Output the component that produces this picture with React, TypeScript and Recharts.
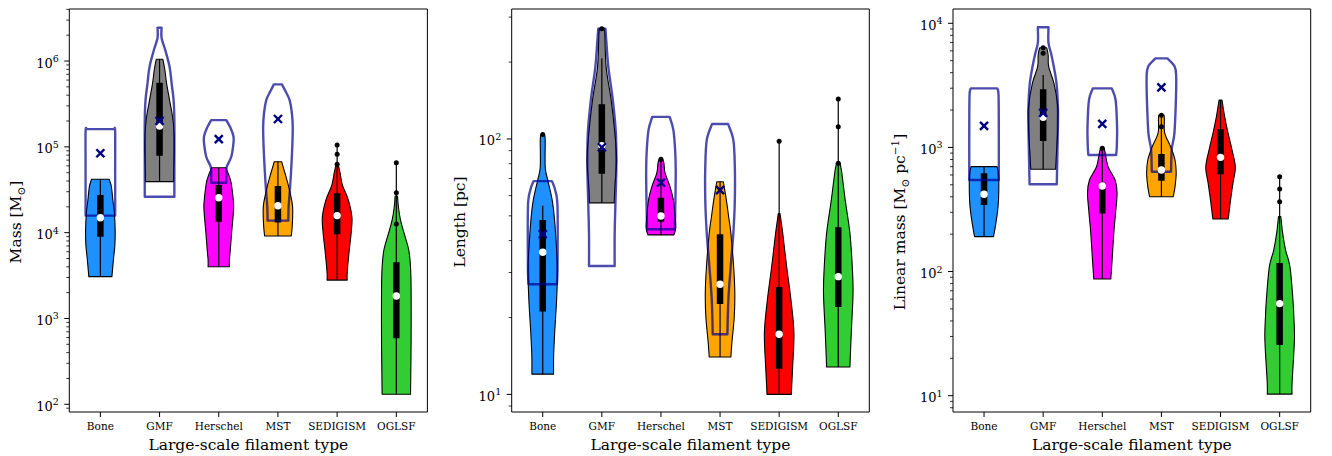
import React from 'react';
import { ComposedChart, Scatter, XAxis, YAxis, ReferenceArea } from 'recharts';

const FONT = '"DejaVu Serif", serif';

const categories = ['Bone', 'GMF', 'Herschel', 'MST', 'SEDIGISM', 'OGLSF'];
const bodyColors = ['#1e90ff', '#808080', '#ff00ff', '#ffa500', '#ff0000', '#32cd32'];

// violin shapes: [value, half width in category units], listed from top to bottom
// boxes: [low whisker, q1, median, q3, high whisker]

// ---- Mass [Msun] ----
const massBodies: [number, number][][] = [
  [[41900, 0.149], [34300, 0.186], [24000, 0.211], [16900, 0.237], [10700, 0.25], [7180, 0.245], [4800, 0.22], [3070, 0.195]],
  [[1047000, 0.056], [786000, 0.09], [554000, 0.118], [351000, 0.169], [223000, 0.22], [145000, 0.245], [91900, 0.25], [58200, 0.242], [39300, 0.237]],
  [[57100, 0.12], [47000, 0.17], [37900, 0.21], [24000, 0.245], [18400, 0.25], [9910, 0.217], [6280, 0.195], [4800, 0.18], [4010, 0.18]],
  [[67100, 0.062], [49600, 0.118], [34000, 0.183], [22200, 0.24], [17400, 0.25], [11600, 0.24], [9140, 0.225]],
  [[61400, 0.02], [49600, 0.05], [41100, 0.07], [34000, 0.1], [24000, 0.19], [15200, 0.25], [9910, 0.237], [5800, 0.2], [3390, 0.17], [2800, 0.17]],
  [[26700, 0.02], [19900, 0.035], [14100, 0.07], [9910, 0.13], [6280, 0.21], [3980, 0.24], [2150, 0.25], [561, 0.25], [251, 0.245], [131, 0.24]],
];
const massOutlines: [number, number][][] = [
  [[161000, 0.235], [150000, 0.25], [50000, 0.25], [15800, 0.25]],
  [[2440000, 0.034], [1853000, 0.034], [1343000, 0.096], [859000, 0.169], [554000, 0.203], [351000, 0.237], [205000, 0.25], [70300, 0.25], [26200, 0.25]],
  [[205000, 0.127], [165700, 0.2], [131200, 0.25], [105000, 0.245], [76100, 0.21], [58200, 0.135], [47000, 0.127], [38200, 0.127]],
  [[535000, 0.068], [435000, 0.135], [351000, 0.197], [248000, 0.235], [170000, 0.25], [91900, 0.24], [37900, 0.21], [19900, 0.18], [13800, 0.175]],
];
const massBoxes = [
  [3070, 8980, 14900, 27500, 41900],
  [39300, 78900, 175000, 558000, 1047000],
  [4010, 13400, 25500, 35900, 57100],
  [9140, 13100, 20600, 35000, 67100],
  [2800, 9570, 15800, 28700, 105000],
  [131, 587, 1830, 4520, 65300],
];
const massMeans = [84200, 201000, 123000, 211000];
const massDots = [[], [], [], [], [105000, 81800, 62500], [65300, 29200, 12600]];

// ---- Length [pc] ----
const lengthBodies: [number, number][][] = [
  [[104, 0.03], [99, 0.042], [77.6, 0.042], [69, 0.085], [57.6, 0.16], [48.2, 0.2], [36.8, 0.235], [30.7, 0.25], [23.4, 0.235], [17.9, 0.205], [14.3, 0.185], [12, 0.183]],
  [[270, 0.045], [260, 0.05], [191, 0.073], [142, 0.158], [105.6, 0.22], [82.8, 0.25], [64.9, 0.22], [56.2, 0.21]],
  [[83.2, 0.03], [80.5, 0.05], [73.6, 0.07], [64.9, 0.155], [57.7, 0.21], [49.5, 0.24], [44.8, 0.25], [42.1, 0.22]],
  [[68, 0.056], [57.6, 0.107], [49.5, 0.146], [42.8, 0.183], [31.6, 0.23], [24.9, 0.25], [20.1, 0.24], [15.9, 0.2], [14, 0.183]],
  [[51, 0.015], [42.8, 0.06], [31.6, 0.127], [23.4, 0.2], [17.4, 0.25], [12.8, 0.228], [10, 0.205]],
  [[80.4, 0.03], [73.6, 0.06], [57.6, 0.118], [42.8, 0.197], [31.6, 0.237], [24.9, 0.25], [17.4, 0.22], [12.8, 0.197]],
];
const lengthOutlines: [number, number][][] = [
  [[68.4, 0.155], [63.1, 0.21], [54.2, 0.25], [31.5, 0.25], [27, 0.24]],
  [[270, 0.06], [244, 0.075], [191, 0.11], [142, 0.186], [105.6, 0.237], [77.7, 0.245], [56.1, 0.23], [42.1, 0.217], [31.8, 0.217]],
  [[122, 0.147], [108.5, 0.21], [90.5, 0.24], [75.6, 0.25], [57.7, 0.245], [44.3, 0.235]],
  [[114.5, 0.135], [99, 0.225], [77.7, 0.25], [57.7, 0.25], [42.8, 0.225], [31.6, 0.18], [23.4, 0.14], [17.2, 0.124]],
];
const lengthBoxes = [
  [12, 21.1, 36, 48.2, 54.7],
  [56.2, 73, 94.2, 136.7, 207],
  [42.1, 47.4, 49.9, 58.9, 83.2],
  [14, 22.6, 27, 42.4, 68],
  [10, 12.6, 17.2, 26.3, 98],
  [12.8, 22, 28.9, 45.1, 143.4],
];
const lengthMeans = [42.4, 92.8, 67.4, 63.1];
const lengthDots = [[104], [270], [83.2], [], [98], [143.4, 111.7, 80.4]];

// ---- Linear mass [Msun pc^-1] ----
const linearBodies: [number, number][][] = [
  [[700, 0.22], [634, 0.24], [547, 0.25], [378, 0.245], [297, 0.225], [229, 0.19], [191, 0.16]],
  [[6350, 0.06], [5555, 0.085], [4470, 0.093], [3280, 0.183], [2130, 0.248], [1663, 0.25], [1306, 0.245], [901, 0.225], [667, 0.21]],
  [[984, 0.03], [901, 0.05], [695, 0.1], [547, 0.217], [430, 0.25], [297, 0.225], [205, 0.195], [124, 0.166], [87, 0.144]],
  [[1820, 0.045], [1664, 0.05], [1306, 0.056], [1007, 0.158], [792, 0.23], [622, 0.25], [481, 0.23], [401, 0.2]],
  [[2410, 0.025], [1770, 0.07], [1306, 0.127], [953, 0.195], [695, 0.25], [516, 0.21], [378, 0.17], [265, 0.13]],
  [[277, 0.02], [205, 0.05], [149, 0.1], [109, 0.175], [59, 0.225], [43.1, 0.24], [28.1, 0.25], [12.7, 0.21], [10.3, 0.21]],
];
const linearOutlines: [number, number][][] = [
  [[2990, 0.222], [2645, 0.245], [1382, 0.25], [658, 0.25], [547, 0.25]],
  [[9290, 0.09], [6940, 0.09], [5383, 0.146], [3304, 0.225], [2002, 0.25], [1148, 0.245], [505, 0.23]],
  [[2990, 0.16], [2410, 0.225], [1461, 0.25], [1008, 0.245], [869, 0.235]],
  [[5220, 0.1], [4470, 0.225], [3693, 0.25], [2410, 0.245], [1306, 0.22], [967, 0.175], [637, 0.163]],
];
const linearBoxes = [
  [191, 344, 419, 620, 700],
  [667, 1125, 1750, 2940, 3840],
  [87, 294, 489, 520, 984],
  [401, 539, 658, 885, 1820],
  [265, 608, 832, 1400, 2410],
  [10.3, 25.6, 55.2, 117, 581],
];
const linearMeans = [1490, 1900, 1545, 3050];
const linearDots = [[], [6350, 5730], [984], [1820, 1470], [], [581, 462, 365]];

// log-axis ticks: 1..9 x 10^k inside the domain
const logTicks = (lo: number, hi: number) => {
  const out: number[] = [];
  for (let k = Math.floor(Math.log10(lo)); k <= Math.ceil(Math.log10(hi)); k++) {
    for (let m = 1; m <= 9; m++) {
      const v = m * Math.pow(10, k);
      if (v >= lo && v <= hi) out.push(v);
    }
  }
  return out;
};

type Pt = { x: number; y: number };

const sidePath = (pts: Pt[]) => {
  let d = '';
  for (let i = 0; i < pts.length - 1; i++) {
    const p0 = pts[Math.max(i - 1, 0)];
    const p1 = pts[i];
    const p2 = pts[i + 1];
    const p3 = pts[Math.min(i + 2, pts.length - 1)];
    const c1x = p1.x + (p2.x - p0.x) / 6;
    const c1y = p1.y + (p2.y - p0.y) / 6;
    const c2x = p2.x - (p3.x - p1.x) / 6;
    const c2y = p2.y - (p3.y - p1.y) / 6;
    d += ` C${c1x},${c1y} ${c2x},${c2y} ${p2.x},${p2.y}`;
  }
  return d;
};

const violinPath = (pts: Pt[]) => {
  const n = pts.length / 2;
  const right = pts.slice(0, n);
  const left = pts.slice(n);
  return `M${right[0].x},${right[0].y}` + sidePath(right) + ` L${left[0].x},${left[0].y}` + sidePath(left) + ' Z';
};

// right side top->bottom, then left side bottom->top
const violinPoints = (profile: [number, number][], pos: number) => [
  ...profile.map(([v, w]) => ({ x: pos + w, y: v })),
  ...profile.slice().reverse().map(([v, w]) => ({ x: pos - w, y: v })),
];

const emptyShape = () => <g />;

const violinLine = (fill: string, stroke: string, width: number, opacity: number) => (p: any) => (
  <path
    d={violinPath(p.points)}
    fill={fill}
    stroke={stroke}
    strokeWidth={width}
    strokeOpacity={opacity}
    strokeLinejoin="round"
  />
);

const medianShape = (p: any) => <circle cx={p.cx} cy={p.cy} r={3.7} fill="#fff" />;
const dotShape = (p: any) => <circle cx={p.cx} cy={p.cy} r={2.5} fill="#000" />;
const meanShape = (p: any) => (
  <g stroke="#000080" strokeWidth={2.4}>
    <line x1={p.cx - 4} y1={p.cy - 4} x2={p.cx + 4} y2={p.cy + 4} />
    <line x1={p.cx - 4} y1={p.cy + 4} x2={p.cx + 4} y2={p.cy - 4} />
  </g>
);

const renderXTick = (props: any) => {
  const { x, y, payload } = props;
  return (
    <g>
      <line x1={x} x2={x} y1={y} y2={y + 5} stroke="#000" strokeWidth={1} />
      <text x={x} y={y + 17.5} textAnchor="middle" fontFamily={FONT} fontSize={10.5} fill="#000">
        {categories[payload.value - 1]}
      </text>
    </g>
  );
};

const renderYTick = (props: any) => {
  const { x, y, payload } = props;
  const lg = Math.log10(payload.value);
  const exp = Math.round(lg);
  const major = Math.abs(lg - exp) < 1e-9;
  return (
    <g>
      <line x1={x - (major ? 5 : 3)} x2={x} y1={y} y2={y} stroke="#000" strokeWidth={major ? 1 : 0.8} />
      {major && (
        <text x={x - 10.5} y={y + 6.5} textAnchor="end" fontFamily={FONT} fontSize={13} fill="#000">
          10<tspan dy={-5.5} fontSize={9.5}>{exp}</tspan>
        </text>
      )}
    </g>
  );
};

type Part = { t: string; sub?: boolean; sup?: boolean };

const massTitle: Part[] = [{ t: 'Mass [M' }, { t: '⊙', sub: true }, { t: ']' }];
const lengthTitle: Part[] = [{ t: 'Length [pc]' }];
const linearTitle: Part[] = [
  { t: 'Linear mass [M' }, { t: '⊙', sub: true }, { t: ' pc' }, { t: '−1', sup: true }, { t: ']' },
];

const titleSpans = (parts: Part[]) => {
  let shift = 0;
  return parts.map((p, i) => {
    const target = p.sub ? 3.5 : p.sup ? -6 : 0;
    const dy = target - shift;
    shift = target;
    return (
      <tspan key={i} dy={dy} fontSize={p.sub || p.sup ? 10.5 : 15.5}>
        {p.t}
      </tspan>
    );
  });
};

const panels = [
  { left: 0, width: 440, axisWidth: 69.3, right: 12.6, domain: [81.3, 4.04e6], title: massTitle, titleX: 21, bodies: massBodies, outlines: massOutlines, boxes: massBoxes, means: massMeans, dots: massDots },
  { left: 440, width: 445, axisWidth: 71.7, right: 15.7, domain: [8.53, 322.7], title: lengthTitle, titleX: 25, bodies: lengthBodies, outlines: lengthOutlines, boxes: lengthBoxes, means: lengthMeans, dots: lengthDots },
  { left: 885, width: 447, axisWidth: 68, right: 21.3, domain: [7.39, 13035], title: linearTitle, titleX: 20, bodies: linearBodies, outlines: linearOutlines, boxes: linearBoxes, means: linearMeans, dots: linearDots },
];

const X_DOMAIN: [number, number] = [0.475, 6.525];

function Panel(p: any) {
  const plotW = p.width - p.axisWidth - p.right;
  const midX = p.axisWidth + plotW / 2;
  const midY = 222;
  const medians = p.boxes.map((b: number[], i: number) => ({ x: i + 1, y: b[2] }));
  const means = p.means.map((v: number, i: number) => ({ x: i + 1, y: v }));
  const dots = p.dots.flatMap((arr: number[], i: number) => arr.map((v) => ({ x: i + 1, y: v })));
  return (
    <div style={{ position: 'absolute', left: p.left, top: 0 }}>
      <ComposedChart width={p.width} height={456} margin={{ top: 9, right: p.right, bottom: 0, left: 0 }}>
        <XAxis
          type="number"
          dataKey="x"
          domain={X_DOMAIN}
          allowDataOverflow
          ticks={[1, 2, 3, 4, 5, 6]}
          interval={0}
          tick={renderXTick}
          tickLine={false}
          axisLine={false}
          tickSize={0}
          tickMargin={0}
          height={44}
          label={{
            content: () => (
              <text x={midX} y={450} textAnchor="middle" fontFamily={FONT} fontSize={15.5} fill="#000">
                Large-scale filament type
              </text>
            ),
          }}
        />
        <YAxis
          type="number"
          dataKey="y"
          scale="log"
          domain={p.domain}
          allowDataOverflow
          ticks={logTicks(p.domain[0], p.domain[1])}
          interval={0}
          tick={renderYTick}
          tickLine={false}
          axisLine={false}
          tickSize={0}
          tickMargin={0}
          width={p.axisWidth}
          label={{
            content: () => (
              <text
                x={p.titleX}
                y={midY}
                transform={`rotate(-90, ${p.titleX}, ${midY})`}
                textAnchor="middle"
                fontFamily={FONT}
                fill="#000"
              >
                {titleSpans(p.title)}
              </text>
            ),
          }}
        />
        {p.bodies.map((prof: [number, number][], i: number) => (
          <Scatter
            key={`body-${i}`}
            data={violinPoints(prof, i + 1)}
            shape={emptyShape}
            line={violinLine(bodyColors[i], '#000', 1.1, 1)}
            isAnimationActive={false}
          />
        ))}
        {p.boxes.map((b: number[], i: number) => (
          <Scatter
            key={`whisker-${i}`}
            data={[{ x: i + 1, y: b[0] }, { x: i + 1, y: b[4] }]}
            shape={emptyShape}
            line={{ stroke: '#000', strokeWidth: 1.2 }}
            isAnimationActive={false}
          />
        ))}
        {p.boxes.map((b: number[], i: number) => (
          <Scatter
            key={`iqr-${i}`}
            data={[{ x: i + 1, y: b[1] }, { x: i + 1, y: b[3] }]}
            shape={emptyShape}
            line={{ stroke: '#000', strokeWidth: 6.5 }}
            isAnimationActive={false}
          />
        ))}
        {p.outlines.map((prof: [number, number][], i: number) => (
          <Scatter
            key={`outline-${i}`}
            data={violinPoints(prof, i + 1)}
            shape={emptyShape}
            line={violinLine('none', '#00008b', 2.4, 0.7)}
            isAnimationActive={false}
          />
        ))}
        <Scatter data={medians} shape={medianShape} isAnimationActive={false} />
        <Scatter data={dots} shape={dotShape} isAnimationActive={false} />
        <Scatter data={means} shape={meanShape} isAnimationActive={false} />
        <ReferenceArea
          x1={X_DOMAIN[0]}
          x2={X_DOMAIN[1]}
          y1={p.domain[0]}
          y2={p.domain[1]}
          fill="none"
          stroke="#000"
          strokeWidth={1}
          ifOverflow="visible"
        />
      </ComposedChart>
    </div>
  );
}

export default function App() {
  return (
    <div style={{ position: 'absolute', left: 0, top: 0, width: 1332, height: 456, background: '#fff' }}>
      {panels.map((p, i) => (
        <Panel key={i} {...p} />
      ))}
    </div>
  );
}
